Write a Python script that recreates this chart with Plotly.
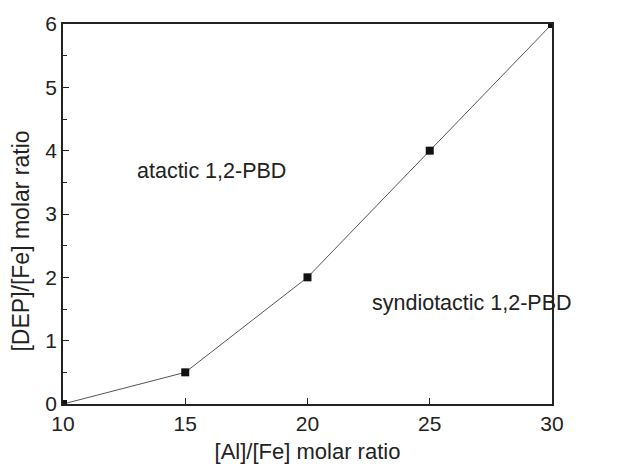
import plotly.graph_objects as go

al_fe = [10, 15, 20, 25, 30]
dep_fe = [0, 0.5, 2, 4, 6]
marker_x = [10, 15, 20, 25, 30]
marker_y = [0, 0.5, 2, 4, 6]

fig = go.Figure()
fig.add_trace(go.Scatter(x=al_fe, y=dep_fe, mode="lines",
                         line=dict(color="#555555", width=1), showlegend=False,
                         cliponaxis=False))
fig.add_trace(go.Scatter(x=marker_x, y=marker_y, mode="markers",
                         marker=dict(symbol="square", size=8, color="#111111"),
                         showlegend=False, cliponaxis=True))

fig.add_annotation(x=16.07, y=3.68, text="atactic 1,2-PBD", showarrow=False,
                   font=dict(size=21.5, color="#222222"))
fig.add_annotation(x=26.73, y=1.6, text="syndiotactic 1,2-PBD", showarrow=False,
                   font=dict(size=21.5, color="#222222"))
fig.add_annotation(xref="paper", yref="paper", x=-0.086, y=0.43,
                   xanchor="center", yanchor="middle",
                   text="[DEP]/[Fe] molar ratio", textangle=-90, showarrow=False,
                   font=dict(size=23, color="#222222"))

axis_common = dict(showline=True, linecolor="#222222", linewidth=1.5, mirror=True,
                   ticks="inside", ticklen=6, tickcolor="#222222", showgrid=False,
                   zeroline=False, tickfont=dict(size=21, color="#222222"),
                   title_font=dict(size=22, color="#222222"))

fig.update_xaxes(range=[10, 30], tickvals=[10, 15, 20, 25, 30],
                 title_text="[Al]/[Fe] molar ratio", title_standoff=10, **axis_common)
fig.update_yaxes(range=[0, 6], tickvals=[0, 1, 2, 3, 4, 5, 6],
                 minor=dict(tickvals=[0.5, 1.5, 2.5, 3.5, 4.5, 5.5], ticks="inside",
                            ticklen=4, tickcolor="#222222"),
                 **axis_common)

fig.update_layout(width=621, height=473, plot_bgcolor="white", paper_bgcolor="white",
                  font=dict(family="Liberation Sans, Arial, sans-serif"),
                  margin=dict(l=63, r=69, t=20, b=69))

fig.write_html("out.html")
